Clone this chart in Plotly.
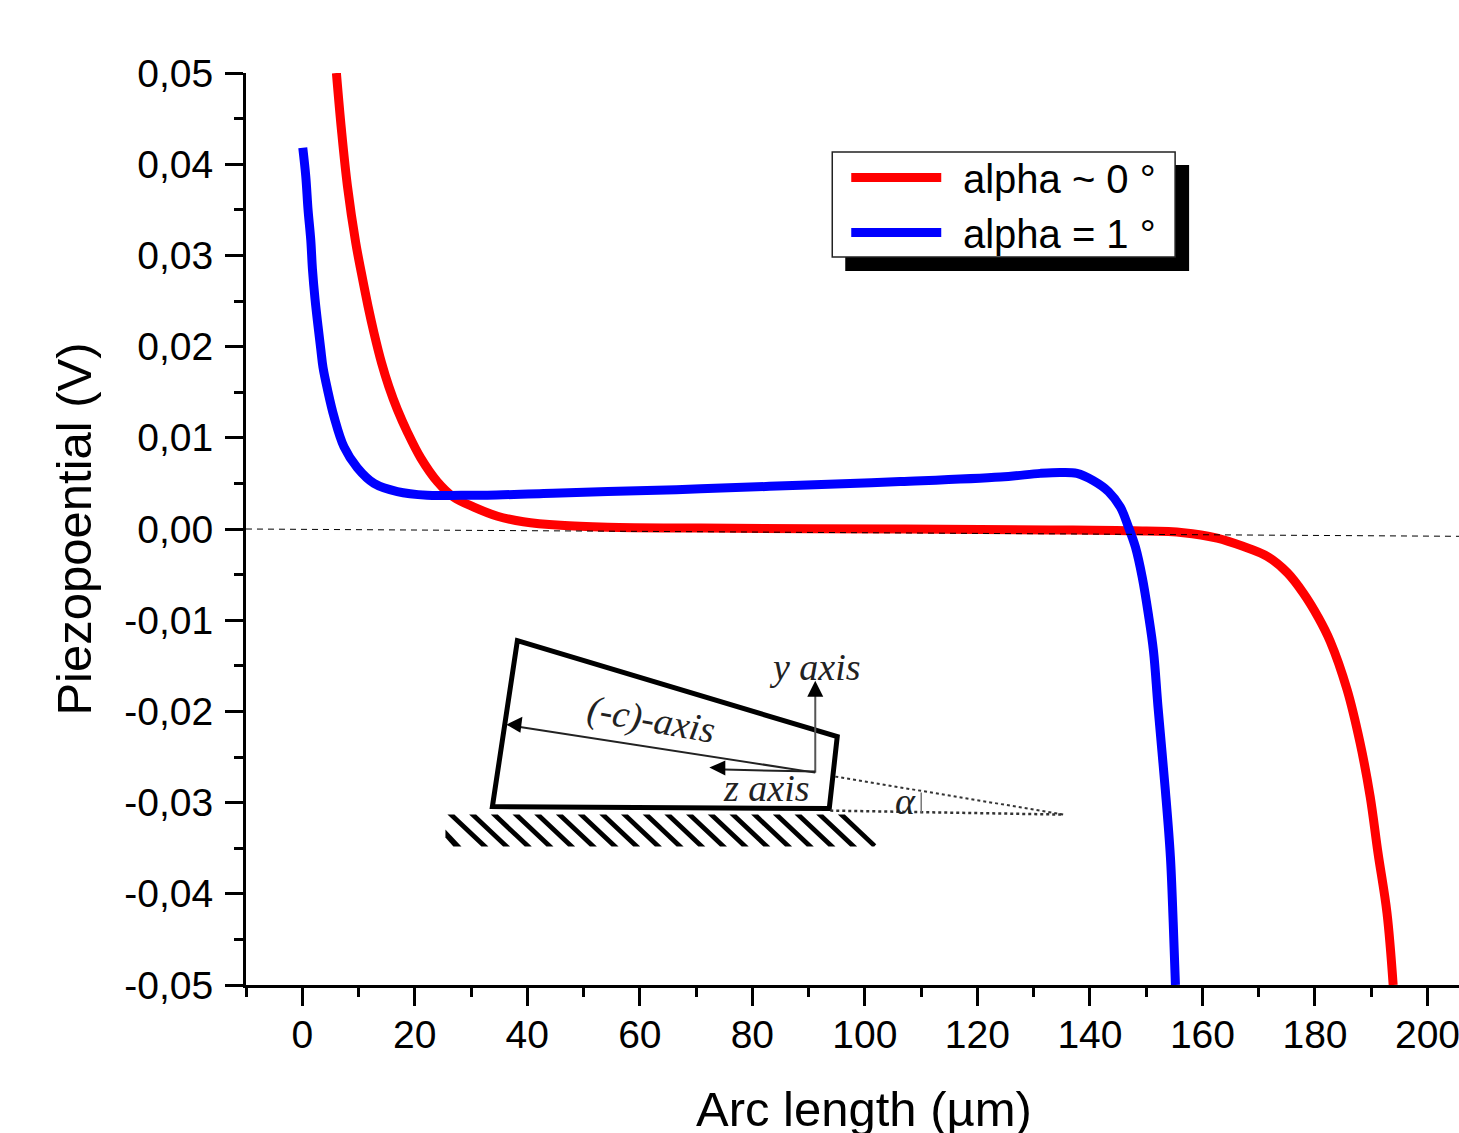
import plotly.graph_objects as go

# ---- data ----
red_x = [6.07, 6.96, 8.03, 9.50, 10.5, 11.7, 12.75, 14.1, 15.4, 16.9, 18.7, 21.05, 24.0, 26.9,
         30.5, 34.7, 39.3, 45.9, 54.3, 70.8, 106.3, 133, 147.7, 156.6, 162.6, 167.2, 171.5, 175.1, 177.9, 180.6,
         182.7, 185.7, 188.0, 189.8, 191.2, 192.8, 193.9]
red_y = [0.0500, 0.0438, 0.0376, 0.0314, 0.0281, 0.0244, 0.0215, 0.0182, 0.0156, 0.0131,
         0.0106, 0.0078, 0.0052, 0.0035, 0.0024, 0.0014, 0.0008, 0.0004, 0.0002, 0.0001, 0.0, -0.0001, -0.0002,
         -0.0004, -0.0010, -0.0019, -0.0030, -0.0048, -0.0070, -0.0097, -0.0123, -0.0176, -0.0234, -0.0293,
         -0.0355, -0.0421, -0.05]
blue_x = [0.09, 0.62, 1.03, 1.51, 1.81, 2.27, 2.81, 3.29, 3.69, 4.48, 5.65, 7.42, 9.80, 12.75, 16.9, 22.2, 28.2,
          32.9, 42.9, 54.3, 70.8, 88.5, 106.3, 124.1, 131.2, 134.7, 137.7, 140.6, 143.3, 145.4, 146.8, 148.1,
          149.3, 150.4, 151.3, 152.1, 153.4, 154.3, 154.8, 155.2]
blue_y = [0.0418, 0.0387, 0.0350, 0.0317, 0.0285, 0.0252, 0.0222, 0.0197, 0.0177, 0.0153, 0.0123, 0.0090, 0.0067,
          0.0050, 0.0041, 0.0037, 0.0037, 0.0037, 0.0039, 0.0041, 0.0044, 0.0048, 0.0052, 0.0057, 0.0061, 0.0062,
          0.0061, 0.0053, 0.0041, 0.0024, 0.0003, -0.0020, -0.0053, -0.0094, -0.0134, -0.0195, -0.0286, -0.0359,
          -0.0431, -0.05]
ref_x = [-10, 205.6]
ref_y = [0.0, -0.0008]
y_ticks = [0.05, 0.04, 0.03, 0.02, 0.01, 0.0, -0.01, -0.02, -0.03, -0.04, -0.05]
y_labels = ["0,05", "0,04", "0,03", "0,02", "0,01", "0,00", "-0,01", "-0,02", "-0,03", "-0,04", "-0,05"]
names = ["\u2005\u2006alpha ~ 0 °", "\u2005\u2006alpha = 1 °"]

# ---- layout geometry (page pixels) ----
W, H = 1459, 1133
L, R, T, B = 245.5, 1459, 73, 985.5
FONT = "Liberation Sans"
SERIF = "Liberation Serif"


def px(x):
    return (x - L) / (R - L)


def py(y):
    return (B - y) / (B - T)


def line(x0, y0, x1, y1, width=2, color="black", dash="solid"):
    return dict(type="line", xref="paper", yref="paper", x0=px(x0), y0=py(y0), x1=px(x1), y1=py(y1),
                line=dict(color=color, width=width, dash=dash))


def poly(pts, fill="black", stroke=None, width=0, layer="above"):
    d = "M " + " L ".join(f"{px(a):.5f},{py(b):.5f}" for a, b in pts) + " Z"
    return dict(type="path", xref="paper", yref="paper", path=d, fillcolor=fill, layer=layer,
                line=dict(color=stroke or fill, width=width))


def text(x, y, s, size=38, angle=0, font=SERIF, italic=True, color="#222"):
    return dict(x=px(x), y=py(y), xref="paper", yref="paper", text=f"<i>{s}</i>" if italic else s,
                showarrow=False, textangle=angle, xanchor="center", yanchor="middle",
                font=dict(family=font, size=size, color=color))


fig = go.Figure()
fig.add_trace(go.Scatter(x=red_x, y=red_y, mode="lines", name=names[0],
                         line=dict(color="#ff0000", width=9, shape="spline", smoothing=1.0)))
fig.add_trace(go.Scatter(x=blue_x, y=blue_y, mode="lines", name=names[1],
                         line=dict(color="#0000ff", width=9, shape="spline", smoothing=1.0)))
fig.add_trace(go.Scatter(x=ref_x, y=ref_y, mode="lines", showlegend=False,
                         line=dict(color="black", width=1, dash="6px,5px")))

shapes = [dict(type="rect", xref="paper", yref="paper", x0=px(845), y0=py(271), x1=px(1189), y1=py(165),
               fillcolor="black", line=dict(width=0), layer="below"),
          dict(type="rect", xref="paper", yref="paper", x0=px(832), y0=py(257), x1=px(1175), y1=py(152),
               fillcolor="white", line=dict(width=1.5, color="#222"), layer="below")]
# inset sketch
shapes.append(poly([(517, 641), (837, 737), (829, 809), (492, 807)], fill="rgba(0,0,0,0)", stroke="black", width=5))
shapes += [line(815, 773, 815, 695, 2, "#555"), poly([(815, 681), (807, 697), (823, 697)])]
shapes += [line(815, 773, 518, 727, 2, "#222"), poly([(506, 725), (522, 717), (520, 733)])]
shapes += [line(815, 772, 724, 770, 2, "#222"), poly([(709, 768), (725, 761), (725, 776)])]
shapes += [line(835, 777, 1064, 815, 2, "#333", "dot"), line(830, 811, 1064, 815, 2.5, "#333", "dot"),
           line(921, 793, 921, 813, 1.5, "#777")]
# hatching under the sketch
HATCH_STEP, HATCH_W, HATCH_DX = 21.7, 7, 34
for k in range(20):
    x0 = 447 + HATCH_STEP * k
    x_bl = min(x0 + HATCH_DX, 874)
    x_br = x0 + HATCH_DX + HATCH_W
    if x_br <= 874:
        pts = [(x0, 815), (x0 + HATCH_W, 815), (x_br, 847), (x_bl, 847)]
    else:
        y_cut = 815 + 32 * (876 - x0 - HATCH_W) / HATCH_DX
        pts = [(x0, 815), (x0 + HATCH_W, 815), (876, y_cut), (874, 847), (x_bl, 847)]
    if x_bl < 874:
        shapes.append(poly(pts))
shapes.append(poly([(445, 830), (445, 838), (453, 847), (461, 847)]))

annotations = [text(815, 667, "y axis"), text(651, 720, "(-c)-axis", angle=10),
               text(766, 788, "z axis"), text(905, 801, "α"),
               text(864, 1110, "Arc length (µm)", size=49, font=FONT, italic=False, color="black")]

fig.update_layout(
    width=W, height=H, autosize=False, paper_bgcolor="white", plot_bgcolor="white",
    margin=dict(l=L, r=W - R, t=T, b=H - B, pad=0),
    font=dict(family=FONT, size=39, color="black"),
    shapes=shapes, annotations=annotations,
    legend=dict(x=px(846), y=py(205), xanchor="left", yanchor="middle", bgcolor="rgba(0,0,0,0)",
                borderwidth=0, font=dict(family=FONT, size=40), itemwidth=90, traceorder="normal"),
    xaxis=dict(range=ref_x, showgrid=False, zeroline=False, showline=True, linecolor="black", linewidth=3,
               ticks="outside", ticklen=18, tickwidth=3, tickcolor="black", tick0=0, dtick=20,
               ticklabelstandoff=-5, ticklabeloverflow="allow", tickfont=dict(family=FONT, size=39),
               minor=dict(ticks="outside", ticklen=9, tickwidth=3, tickcolor="black", tick0=0, dtick=10)),
    yaxis=dict(range=[-0.05, 0.05], showgrid=False, zeroline=False, showline=True, linecolor="black", linewidth=3,
               ticks="outside", ticklen=18, tickwidth=3, tickcolor="black", tickmode="array",
               tickvals=y_ticks, ticktext=y_labels, ticklabelstandoff=4, tickfont=dict(family=FONT, size=39),
               minor=dict(ticks="outside", ticklen=9, tickwidth=3, tickcolor="black", tick0=0, dtick=0.005),
               title=dict(text="Piezopoential (V)", font=dict(family=FONT, size=49), standoff=18)),
)

fig.write_html("out.html", config={"displayModeBar": False},
               post_script="document.body.style.margin='0';document.body.style.overflow='hidden';")
